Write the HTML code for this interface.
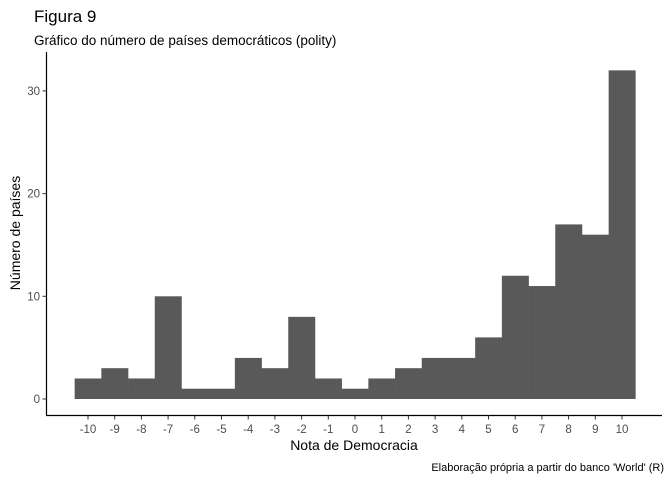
<!DOCTYPE html>
<html><head><meta charset="utf-8"><style>
body{margin:0;background:#fff;font-family:"Liberation Sans",Arial,sans-serif}
</style></head><body>
<svg width="672" height="480" xmlns="http://www.w3.org/2000/svg">
<text x="34" y="22" font-size="17" fill="#000">Figura 9</text>
<text x="34" y="45" font-size="13.5" fill="#000">Gráfico do número de países democráticos (polity)</text>
<g id="bars"></g>
<line x1="46.5" y1="52" x2="46.5" y2="415.5" stroke="#000" stroke-width="1.2"/>
<line x1="46" y1="415.5" x2="662" y2="415.5" stroke="#000" stroke-width="1.2"/>
<g id="xt"></g>
<g id="yt"></g>
<text x="354" y="450" font-size="14" text-anchor="middle">Nota de Democracia</text>
<text transform="translate(20,233) rotate(-90)" font-size="14" text-anchor="middle">Número de países</text>
<text x="664" y="471" font-size="11" text-anchor="end">Elaboração própria a partir do banco 'World' (R)</text>
</svg>
<script>
const categories=[-10,-9,-8,-7,-6,-5,-4,-3,-2,-1,0,1,2,3,4,5,6,7,8,9,10];
const counts=[2,3,2,10,1,1,4,3,8,2,1,2,3,4,4,6,12,11,17,16,32];
const yTicks=[0,10,20,30];
const NS="http://www.w3.org/2000/svg";
const xs=v=>88+(v+10)*26.7;
const ys=v=>399-v*10.27;
const bw=26.7;
const bars=document.getElementById('bars'),xt=document.getElementById('xt'),yt=document.getElementById('yt');
categories.forEach((c,i)=>{
 const r=document.createElementNS(NS,'rect');
 r.setAttribute('x',xs(c)-bw/2);r.setAttribute('width',bw+0.3);
 r.setAttribute('y',ys(counts[i]));r.setAttribute('height',ys(0)-ys(counts[i]));
 r.setAttribute('fill','#595959');
 
 
 bars.appendChild(r);
 const l=document.createElementNS(NS,'line');
 l.setAttribute('x1',xs(c));l.setAttribute('x2',xs(c));l.setAttribute('y1',415.5);l.setAttribute('y2',419.5);l.setAttribute('stroke','#333');
 
 
 xt.appendChild(l);
 const t=document.createElementNS(NS,'text');
 t.setAttribute('x',xs(c));t.setAttribute('y',433);t.setAttribute('font-size','11.5');t.setAttribute('text-anchor','middle');t.setAttribute('fill','#4d4d4d');
 t.textContent=c;
 
 
 xt.appendChild(t);
});
yTicks.forEach(v=>{
 const l=document.createElementNS(NS,'line');
 l.setAttribute('x1',42.5);l.setAttribute('x2',46.5);l.setAttribute('y1',ys(v));l.setAttribute('y2',ys(v));l.setAttribute('stroke','#333');
 
 
 yt.appendChild(l);
 const t=document.createElementNS(NS,'text');
 t.setAttribute('x',40);t.setAttribute('y',ys(v)+4);t.setAttribute('font-size','11.5');t.setAttribute('text-anchor','end');t.setAttribute('fill','#4d4d4d');
 t.textContent=v;
 
 
 yt.appendChild(t);
});
</script>
</body></html>
